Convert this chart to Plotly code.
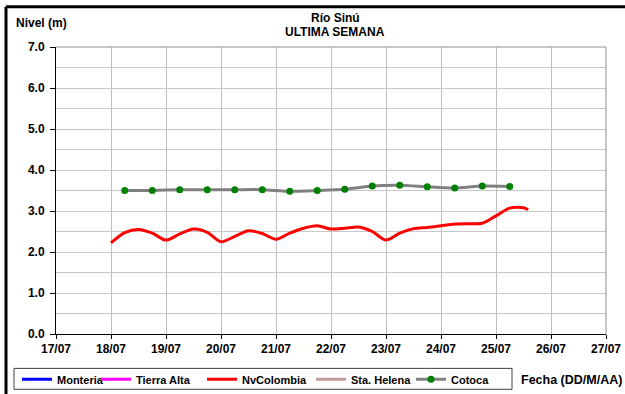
import plotly.graph_objects as go

# Station names and legend colours
stations = ["Monteria", "Tierra Alta", "NvColombia", "Sta. Helena", "Cotoca"]
line_colors = ["#0000FF", "#FF00FF", "#FF0000", "#C09A9A", "#808080"]

# NvColombia level readings (m), six-hourly
nv_times = [
    "2013-07-18 00:00", "2013-07-18 06:00", "2013-07-18 12:00", "2013-07-18 18:00",
    "2013-07-19 00:00", "2013-07-19 06:00", "2013-07-19 12:00", "2013-07-19 18:00",
    "2013-07-20 00:00", "2013-07-20 06:00", "2013-07-20 12:00", "2013-07-20 18:00",
    "2013-07-21 00:00", "2013-07-21 06:00", "2013-07-21 12:00", "2013-07-21 18:00",
    "2013-07-22 00:00", "2013-07-22 06:00", "2013-07-22 12:00", "2013-07-22 18:00",
    "2013-07-23 00:00", "2013-07-23 06:00", "2013-07-23 12:00", "2013-07-23 18:00",
    "2013-07-24 00:00", "2013-07-24 06:00", "2013-07-24 12:00", "2013-07-24 18:00",
    "2013-07-25 00:00", "2013-07-25 06:00", "2013-07-25 12:00", "2013-07-25 14:00",
]
nv_levels = [
    2.22, 2.47, 2.55, 2.46,
    2.29, 2.44, 2.56, 2.48,
    2.25, 2.38, 2.52, 2.45,
    2.31, 2.46, 2.58, 2.64,
    2.56, 2.58, 2.61, 2.50,
    2.29, 2.46, 2.57, 2.60,
    2.64, 2.68, 2.69, 2.70,
    2.88, 3.07, 3.08, 3.03,
]

# Cotoca level readings (m), twice a day
cotoca_times = [
    "2013-07-18 06:00", "2013-07-18 18:00", "2013-07-19 06:00", "2013-07-19 18:00",
    "2013-07-20 06:00", "2013-07-20 18:00", "2013-07-21 06:00", "2013-07-21 18:00",
    "2013-07-22 06:00", "2013-07-22 18:00", "2013-07-23 06:00", "2013-07-23 18:00",
    "2013-07-24 06:00", "2013-07-24 18:00", "2013-07-25 06:00",
]
cotoca_levels = [3.50, 3.50, 3.52, 3.52, 3.52, 3.52, 3.48, 3.50,
                 3.53, 3.61, 3.63, 3.59, 3.56, 3.61, 3.60]

x_range = ["2013-07-17", "2013-07-27"]
y_range = [0, 7]

FONT = "Liberation Sans, Arial, sans-serif"

# Plot-area geometry in pixels
L, R, T, B = 56, 606, 46.5, 334.5
W, H = 625, 394
pw, ph = R - L, B - T


def px(x):
    return (x - L) / pw


def py(y):
    return (B - y) / ph


# one legend per station so each entry sits at its own spot in the strip
legend_ids = ["legend", "legend2", "legend3", "legend4", "legend5"]
legend_left_px = [17, 96, 202, 311, 411]

fig = go.Figure()

# Stations without readings this week still appear in the legend
for i in (0, 1):
    fig.add_trace(go.Scatter(x=[None], y=[None], mode="lines", name=stations[i],
                             legend=legend_ids[i],
                             line=dict(color=line_colors[i], width=3)))

fig.add_trace(go.Scatter(x=nv_times, y=nv_levels, mode="lines", name=stations[2],
                         legend=legend_ids[2],
                         line=dict(color=line_colors[2], width=3, shape="spline",
                                   smoothing=0.8)))

fig.add_trace(go.Scatter(x=[None], y=[None], mode="lines", name=stations[3],
                         legend=legend_ids[3],
                         line=dict(color=line_colors[3], width=3)))

fig.add_trace(go.Scatter(x=cotoca_times, y=cotoca_levels, mode="lines+markers",
                         name=stations[4], legend=legend_ids[4],
                         line=dict(color=line_colors[4], width=3, shape="spline",
                                   smoothing=0.6),
                         marker=dict(color="#008000", size=7)))

legend_style = dict(orientation="h", xanchor="left", yanchor="middle",
                    borderwidth=0, bgcolor="rgba(0,0,0,0)", itemwidth=30,
                    font=dict(family=FONT, size=11, color="black", weight="bold"))
legend_layout = {
    lid: dict(legend_style, x=px(xl), y=py(380))
    for lid, xl in zip(legend_ids, legend_left_px)
}

fig.update_layout(
    width=W, height=H,
    margin=dict(l=L, r=W - R, t=T, b=H - B, pad=0, autoexpand=False),
    paper_bgcolor="white", plot_bgcolor="white",
    font=dict(family=FONT, size=12, color="black", weight="bold"),
    showlegend=True,
    xaxis=dict(
        type="date", range=x_range, dtick=86400000, tickformat="%d/%m",
        showgrid=True, gridcolor="#C0C0C0", gridwidth=1,
        showline=True, linecolor="black", linewidth=1,
        ticks="outside", ticklen=4, tickcolor="black",
        tickfont=dict(family=FONT, size=12, color="black", weight="bold"),
        zeroline=False, fixedrange=True,
    ),
    yaxis=dict(
        range=y_range, dtick=1, tickformat=".1f",
        showgrid=True, gridcolor="#C8C8C8", gridwidth=1,
        minor=dict(dtick=0.5, showgrid=True, gridcolor="#C8C8C8", gridwidth=1),
        showline=True, linecolor="black", linewidth=1,
        ticks="outside", ticklen=5, tickcolor="black", ticklabelstandoff=3,
        tickfont=dict(family=FONT, size=12, color="black", weight="bold"),
        zeroline=False, fixedrange=True,
    ),
    shapes=[
        # outer frame edges
        dict(type="line", xref="paper", yref="paper", x0=px(6), x1=px(W + 5),
             y0=py(6), y1=py(6), line=dict(color="black", width=3)),
        dict(type="line", xref="paper", yref="paper", x0=px(6), x1=px(6),
             y0=py(6), y1=py(H + 5), line=dict(color="black", width=3)),
        # plot area top/right border
        dict(type="line", xref="paper", yref="paper", x0=0, x1=1, y0=1, y1=1,
             line=dict(color="#909090", width=1)),
        dict(type="line", xref="paper", yref="paper", x0=1, x1=1, y0=0, y1=1,
             line=dict(color="#909090", width=1)),
        # legend strip box
        dict(type="rect", xref="paper", yref="paper", x0=px(14), x1=px(512),
             y0=py(390), y1=py(369), line=dict(color="#404040", width=1)),
    ],
    annotations=[
        dict(text="Río Sinú", xref="paper", yref="paper", x=px(335), y=py(17),
             showarrow=False, xanchor="center", yanchor="middle",
             font=dict(family=FONT, size=12, weight="bold")),
        dict(text="ULTIMA SEMANA", xref="paper", yref="paper", x=px(335), y=py(31),
             showarrow=False, xanchor="center", yanchor="middle",
             font=dict(family=FONT, size=12, weight="bold")),
        dict(text="Nivel (m)", xref="paper", yref="paper", x=px(14), y=py(22),
             showarrow=False, xanchor="left", yanchor="middle",
             font=dict(family=FONT, size=12, weight="bold")),
        dict(text="Fecha (DD/M/AA)", xref="paper", yref="paper", x=px(519), y=py(381),
             showarrow=False, xanchor="left", yanchor="middle",
             font=dict(family=FONT, size=12.5, weight="bold")),
    ],
    **legend_layout,
)

fig.write_html("out.html")
